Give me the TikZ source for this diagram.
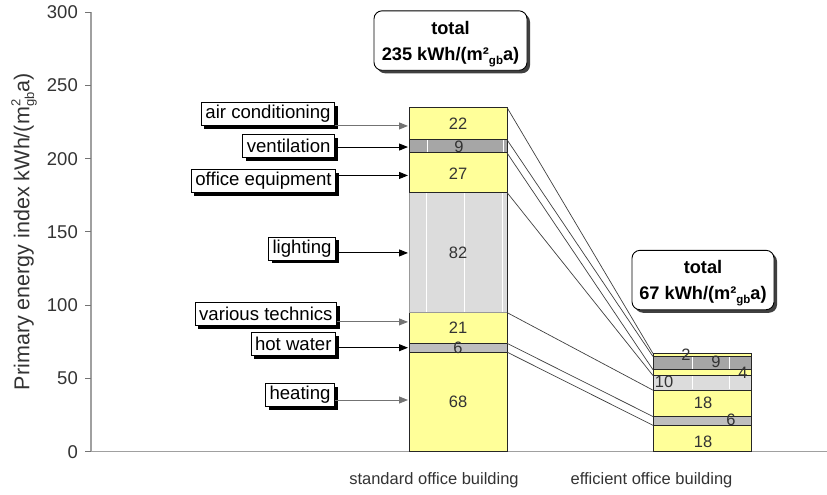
\documentclass[tikz,border=0pt]{standalone}
\usepackage{fontspec}
\setmainfont{Liberation Sans}
\usetikzlibrary{arrows.meta,shadows,calc}
\definecolor{ylw}{HTML}{FFFF99}
\definecolor{ltg}{HTML}{DCDCDC}
\definecolor{dkg}{HTML}{A6A6A6}
\definecolor{hwg}{HTML}{BEBEBE}
\definecolor{axg}{HTML}{A0A0A0}
\definecolor{txt}{HTML}{333333}
\begin{document}
\begin{tikzpicture}[x=1pt,y=1.4647pt,
  seg/.style={draw=black!85,line width=0.8pt},
  wl/.style={white,line width=1pt},
  lab/.style={draw=black,fill=white,line width=0.9pt,font=\fontsize{18.6}{20}\selectfont,
    inner xsep=4pt,inner ysep=0pt,minimum height=23pt,anchor=east,
    drop shadow={shadow xshift=3pt,shadow yshift=-3pt,opacity=1,fill=black}},
  arr/.style={-{Triangle[length=9pt,width=7pt]},line width=0.9pt},
  num/.style={font=\fontsize{16.5}{18}\selectfont,text=txt,inner sep=0pt},
  tick/.style={font=\fontsize{18.5}{20}\selectfont,text=txt,inner sep=0pt,anchor=east},
  conn/.style={draw=black!75,line width=0.7pt},
  tot/.style={draw=black,fill=white,rounded corners=8pt,line width=0.9pt,align=center,
    font=\bfseries\fontsize{18.2}{26}\selectfont,
    drop shadow={shadow xshift=3pt,shadow yshift=-3pt,opacity=1,fill=black!75}},
  cat/.style={font=\fontsize{16.5}{18}\selectfont,text=txt,inner sep=0pt}]
\useasboundingbox (0,-29.56) rectangle (827,308.39);

% axes
\draw[axg,line width=1.4pt] (91,0) -- (91,300);
\draw[axg,line width=1.2pt] (91,0) -- (827,0);
\foreach \v in {0,50,...,300}{
  \draw[black!55,line width=1pt] (85,\v) -- (91,\v);
  \node[tick] (t\v) at (78,\v) {\v};
}
\node[rotate=90,font=\fontsize{21.5}{23}\selectfont,text=txt] (ytitle) at (24,150.2)
  {Primary energy index kWh/(m\rlap{\raisebox{0.8ex}{\fontsize{13}{13}\selectfont 2}}\raisebox{-0.4ex}{\fontsize{13}{13}\selectfont gb}a)};

% standard bar
\filldraw[seg,fill=ylw] (409,0) rectangle (507,68);
\filldraw[seg,fill=hwg] (409,68) rectangle (507,74);
\filldraw[seg,fill=ylw] (409,74) rectangle (507,95);
\filldraw[draw=black!40,line width=0.8pt,fill=ltg] (409,95) rectangle (507,177);
\draw[black!85,line width=0.8pt] (507,95) -- (507,177);
\filldraw[seg,fill=ylw] (409,177) rectangle (507,204);
\filldraw[seg,fill=dkg] (409,204) rectangle (507,213);
\filldraw[seg,fill=ylw] (409,213) rectangle (507,235);
\foreach \x in {426,464,502}{\draw[wl] (\x,95.6) -- (\x,176.4);}
\foreach \x in {427,503}{\draw[wl] (\x,204.5) -- (\x,212.5);}

% efficient bar
\filldraw[seg,fill=ylw] (653,0) rectangle (751,18);
\filldraw[seg,fill=hwg] (653,18) rectangle (751,24);
\filldraw[seg,fill=ylw] (653,24) rectangle (751,42);
\filldraw[seg,fill=ltg] (653,42) rectangle (751,52);
\filldraw[seg,fill=ylw] (653,52) rectangle (751,56);
\filldraw[seg,fill=dkg] (653,56) rectangle (751,65);
\filldraw[seg,fill=ylw] (653,65) rectangle (751,67);
\foreach \x in {692,729}{\draw[wl] (\x,42.6) -- (\x,51.4); \draw[wl] (\x,56.5) -- (\x,64.5);}

% connector corners
\coordinate (a1) at (507,235); \coordinate (b1) at (653,67);
\coordinate (a2) at (507,213); \coordinate (b2) at (653,65);
\coordinate (a3) at (507,204); \coordinate (b3) at (653,56);
\coordinate (a4) at (507,177); \coordinate (b4) at (653,52);
\coordinate (a5) at (507,95);  \coordinate (b5) at (653,42);
\coordinate (a6) at (507,74);  \coordinate (b6) at (653,24);
\coordinate (a7) at (507,68);  \coordinate (b7) at (653,18);
\foreach \i in {1,...,7}{\draw[conn] (a\i) -- (b\i);}

% values
\node[num] (v1) at (458,223.7) {22};
\node[num] (v2) at (459,208) {9};
\node[num] (v3) at (458,189.5) {27};
\node[num] (v4) at (458,135.7) {82};
\node[num] (v5) at (458,84.4) {21};
\node[num] (v6) at (458,70.8) {6};
\node[num] (v7) at (458,34) {68};
\node[num] (w1) at (686,66) {2};
\node[num] (w2) at (716,61.2) {9};
\node[num] (w3) at (743,53.7) {4};
\node[num] (w4) at (664,47.6) {10};
\node[num] (w5) at (703,33.2) {18};
\node[num] (w6) at (731,21.6) {6};
\node[num] (w7) at (703,6.6) {18};

% labels and arrows
\node[lab] (ac) at (335,230.5) {air conditioning};
\node[lab] (ve) at (335,208.7) {ventilation};
\node[lab] (oe) at (336,184.8) {office equipment};
\node[lab] (li) at (336,138.4) {lighting};
\node[lab] (vt) at (337,94) {various technics};
\node[lab] (hw) at (336,73.5) {hot water};
\node[lab] (he) at (335,38.7) {heating};
\coordinate (tac) at (408,222.4);
\coordinate (tve) at (408,208);
\coordinate (toe) at (408,188.6);
\coordinate (tli) at (408,135.7);
\coordinate (tvt) at (408,88.6);
\coordinate (thw) at (408,71);
\coordinate (the) at (408,35.3);
\draw[arr,black!55] (ac.east |- tac) -- (tac);
\draw[arr,black] (ve.east |- tve) -- (tve);
\draw[arr,black] (oe.east |- toe) -- (toe);
\draw[arr,black] (li.east |- tli) -- (tli);
\draw[arr,black!55] (vt.east |- tvt) -- (tvt);
\draw[arr,black] (hw.east |- thw) -- (thw);
\draw[arr,black!55] (he.east |- the) -- (the);

% totals
\node[tot,minimum width=153pt,minimum height=55pt] (tot1) at (450.5,280.7)
  {\rule{0pt}{20pt}total\\235 kWh/(m²\raisebox{-0.45ex}{\fontsize{11.5}{11.5}\selectfont gb}a)};
\node[tot,minimum width=142pt,minimum height=56pt] (tot2) at (703,117.2)
  {\rule{0pt}{20pt}total\\67 kWh/(m²\raisebox{-0.45ex}{\fontsize{11.5}{11.5}\selectfont gb}a)};

% categories
\node[cat] (c1) at (434,-19.3) {standard office building};
\node[cat] (c2) at (651.5,-19.3) {efficient office building};
\end{tikzpicture}
\end{document}
